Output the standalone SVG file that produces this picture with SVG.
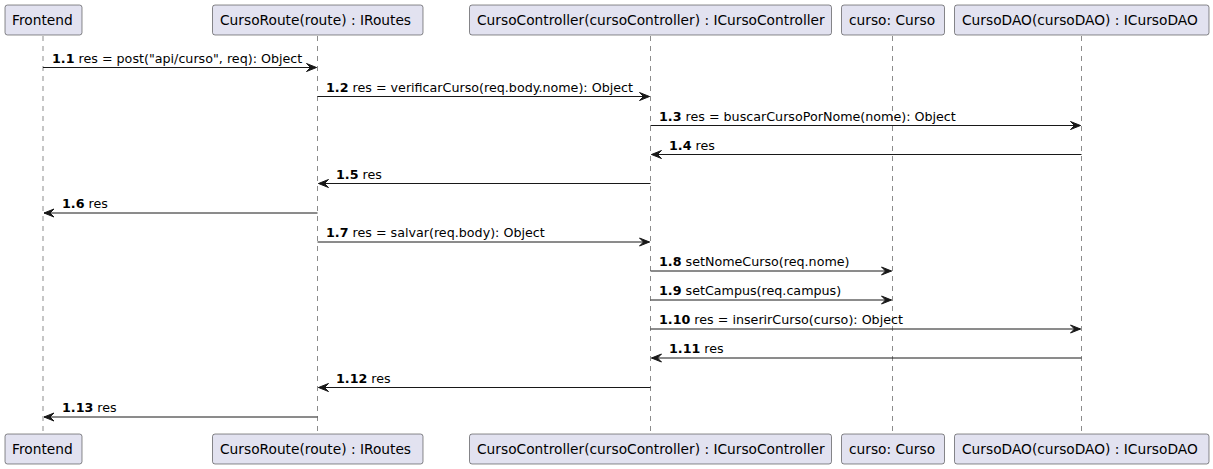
<svg xmlns="http://www.w3.org/2000/svg" width="1213" height="469" viewBox="0 0 1213 469">
<style>
.box{fill:#E2E2F0;stroke:#181818;stroke-width:0.5}
.pt{font-family:"DejaVu Sans",sans-serif;font-size:13.75px;fill:#000}
.life{stroke:#181818;stroke-width:0.5;stroke-dasharray:5,5;fill:none}
.msg{stroke:#181818;stroke-width:1}
.ml{font-family:"DejaVu Sans",sans-serif;font-size:12.7px;fill:#000}
.ah{fill:#181818;stroke:#181818;stroke-width:1}
</style>
<defs>
<marker id="arr" viewBox="0 0 12 10" refX="11" refY="5" markerWidth="12" markerHeight="10" markerUnits="userSpaceOnUse" orient="auto">
<polygon points="1,1 11,5 1,9 5,5" class="ah"/>
</marker>
</defs>
<g id="lifelines">
<line class="life" x1="43" y1="36" x2="43" y2="434"/>
<line class="life" x1="317.5" y1="36" x2="317.5" y2="434"/>
<line class="life" x1="650.5" y1="36" x2="650.5" y2="434"/>
<line class="life" x1="892.5" y1="36" x2="892.5" y2="434"/>
<line class="life" x1="1081.5" y1="36" x2="1081.5" y2="434"/>
</g>
<g id="frontend">
<rect class="box" x="5" y="5" width="77" height="30" rx="2.5"/>
<text class="pt" x="12" y="24.5">Frontend</text>
<rect class="box" x="5" y="434" width="77" height="30" rx="2.5"/>
<text class="pt" x="12" y="453.5">Frontend</text>
</g>
<g id="cursoRoute">
<rect class="box" x="212.5" y="5" width="210.5" height="30" rx="2.5"/>
<text class="pt" x="220" y="24.5">CursoRoute(route) : IRoutes</text>
<rect class="box" x="212.5" y="434" width="210.5" height="30" rx="2.5"/>
<text class="pt" x="220" y="453.5">CursoRoute(route) : IRoutes</text>
</g>
<g id="cursoController">
<rect class="box" x="469.5" y="5" width="362" height="30" rx="2.5"/>
<text class="pt" x="477" y="24.5">CursoController(cursoController) : ICursoController</text>
<rect class="box" x="469.5" y="434" width="362" height="30" rx="2.5"/>
<text class="pt" x="477" y="453.5">CursoController(cursoController) : ICursoController</text>
</g>
<g id="curso">
<rect class="box" x="841.5" y="5" width="103" height="30" rx="2.5"/>
<text class="pt" x="849" y="24.5">curso: Curso</text>
<rect class="box" x="841.5" y="434" width="103" height="30" rx="2.5"/>
<text class="pt" x="849" y="453.5">curso: Curso</text>
</g>
<g id="cursoDAO">
<rect class="box" x="954.5" y="5" width="254.5" height="30" rx="2.5"/>
<text class="pt" x="962" y="24.5">CursoDAO(cursoDAO) : ICursoDAO</text>
<rect class="box" x="954.5" y="434" width="254.5" height="30" rx="2.5"/>
<text class="pt" x="962" y="453.5">CursoDAO(cursoDAO) : ICursoDAO</text>
</g>
<g id="connectors">
<line class="msg" x1="43" y1="67.5" x2="316.5" y2="67.5" marker-end="url(#arr)"/>
<text class="ml" x="52" y="62.5"><tspan font-weight="bold">1.1</tspan> res = post("api/curso", req): Object</text>
<line class="msg" x1="317.5" y1="96.5" x2="649.5" y2="96.5" marker-end="url(#arr)"/>
<text class="ml" x="326" y="91.5"><tspan font-weight="bold">1.2</tspan> res = verificarCurso(req.body.nome): Object</text>
<line class="msg" x1="650.5" y1="125.5" x2="1080.5" y2="125.5" marker-end="url(#arr)"/>
<text class="ml" x="659" y="120.5"><tspan font-weight="bold">1.3</tspan> res = buscarCursoPorNome(nome): Object</text>
<line class="msg" x1="1081.5" y1="154.5" x2="651.5" y2="154.5" marker-end="url(#arr)"/>
<text class="ml" x="669" y="149.5"><tspan font-weight="bold">1.4</tspan> res</text>
<line class="msg" x1="650.5" y1="183.5" x2="318.5" y2="183.5" marker-end="url(#arr)"/>
<text class="ml" x="336" y="178.5"><tspan font-weight="bold">1.5</tspan> res</text>
<line class="msg" x1="317.5" y1="213" x2="44" y2="213" marker-end="url(#arr)"/>
<text class="ml" x="62" y="208"><tspan font-weight="bold">1.6</tspan> res</text>
<line class="msg" x1="317.5" y1="242" x2="649.5" y2="242" marker-end="url(#arr)"/>
<text class="ml" x="326" y="237"><tspan font-weight="bold">1.7</tspan> res = salvar(req.body): Object</text>
<line class="msg" x1="650.5" y1="271" x2="891.5" y2="271" marker-end="url(#arr)"/>
<text class="ml" x="659" y="266"><tspan font-weight="bold">1.8</tspan> setNomeCurso(req.nome)</text>
<line class="msg" x1="650.5" y1="300" x2="891.5" y2="300" marker-end="url(#arr)"/>
<text class="ml" x="659" y="295"><tspan font-weight="bold">1.9</tspan> setCampus(req.campus)</text>
<line class="msg" x1="650.5" y1="329" x2="1080.5" y2="329" marker-end="url(#arr)"/>
<text class="ml" x="659" y="324"><tspan font-weight="bold">1.10</tspan> res = inserirCurso(curso): Object</text>
<line class="msg" x1="1081.5" y1="358" x2="651.5" y2="358" marker-end="url(#arr)"/>
<text class="ml" x="669" y="353"><tspan font-weight="bold">1.11</tspan> res</text>
<line class="msg" x1="650.5" y1="387.5" x2="318.5" y2="387.5" marker-end="url(#arr)"/>
<text class="ml" x="336" y="382.5"><tspan font-weight="bold">1.12</tspan> res</text>
<line class="msg" x1="317.5" y1="417" x2="44" y2="417" marker-end="url(#arr)"/>
<text class="ml" x="62" y="412"><tspan font-weight="bold">1.13</tspan> res</text>
</g>
</svg>
